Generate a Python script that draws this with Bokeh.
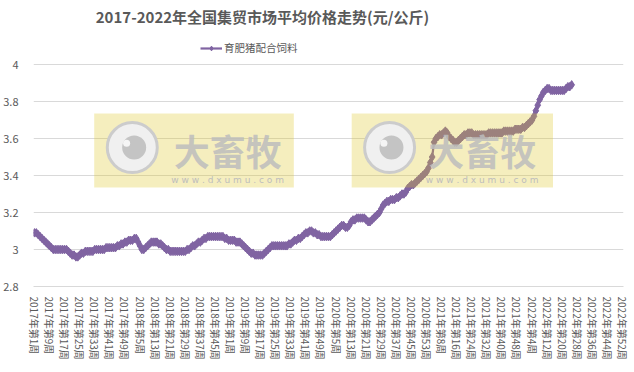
from bokeh.plotting import figure
from bokeh.models import (FixedTicker, CustomJSTickFormatter, Legend, LegendItem,
                          Label, BoxAnnotation, ColumnDataSource, Range1d)
from bokeh.embed import file_html
from bokeh.resources import INLINE

# ---------------- data ----------------
years = [2017, 2018, 2019, 2020, 2021, 2022]
weeks_per_year = [52, 52, 52, 53, 52, 52]
week_labels = [f"{y}年第{w}周" for y, n in zip(years, weeks_per_year) for w in range(1, n + 1)]
label_step = 8

series_name = "育肥猪配合饲料"
title_text = "2017-2022年全国集贸市场平均价格走势(元/公斤)"

price_2017 = [3.09, 3.09, 3.08, 3.07, 3.06, 3.05, 3.04, 3.03, 3.02, 3.01,
              3.00, 3.00, 3.00, 3.00, 3.00, 3.00, 3.00, 3.00, 2.99, 2.98,
              2.97, 2.97, 2.96, 2.96, 2.97, 2.98, 2.98, 2.99, 2.99, 2.99,
              2.99, 2.99, 3.00, 3.00, 3.00, 3.00, 3.00, 3.00, 3.01, 3.01,
              3.01, 3.01, 3.01, 3.01, 3.02, 3.02, 3.03, 3.03, 3.04, 3.04,
              3.05, 3.05]
price_2018 = [3.05, 3.06, 3.06, 3.04, 3.02, 3.00, 3.00, 3.01, 3.02, 3.03,
              3.04, 3.04, 3.04, 3.04, 3.03, 3.03, 3.02, 3.01, 3.00, 3.00,
              2.99, 2.99, 2.99, 2.99, 2.99, 2.99, 2.99, 2.99, 2.99, 3.00,
              3.00, 3.01, 3.02, 3.02, 3.03, 3.04, 3.04, 3.05, 3.06, 3.06,
              3.07, 3.07, 3.07, 3.07, 3.07, 3.07, 3.07, 3.07, 3.07, 3.06,
              3.06, 3.05]
price_2019 = [3.05, 3.05, 3.05, 3.04, 3.04, 3.04, 3.03, 3.02, 3.01, 3.00,
              2.99, 2.98, 2.98, 2.97, 2.97, 2.97, 2.97, 2.97, 2.98, 2.99,
              3.00, 3.01, 3.02, 3.02, 3.02, 3.02, 3.02, 3.02, 3.02, 3.02,
              3.02, 3.03, 3.03, 3.04, 3.05, 3.05, 3.06, 3.06, 3.07, 3.08,
              3.09, 3.09, 3.10, 3.10, 3.09, 3.09, 3.08, 3.08, 3.07, 3.07,
              3.07, 3.07]
price_2020 = [3.07, 3.07, 3.08, 3.09, 3.10, 3.11, 3.12, 3.13, 3.13, 3.12,
              3.12, 3.13, 3.15, 3.16, 3.16, 3.17, 3.17, 3.17, 3.17, 3.17,
              3.16, 3.15, 3.15, 3.16, 3.17, 3.18, 3.19, 3.20, 3.22, 3.24,
              3.25, 3.26, 3.26, 3.27, 3.27, 3.27, 3.28, 3.28, 3.29, 3.30,
              3.30, 3.31, 3.33, 3.34, 3.35, 3.35, 3.36, 3.37, 3.38, 3.39,
              3.40, 3.41, 3.42]
price_2021 = [3.44, 3.47, 3.50, 3.58, 3.60, 3.61, 3.62, 3.62, 3.63, 3.64,
              3.63, 3.61, 3.60, 3.59, 3.58, 3.58, 3.59, 3.60, 3.61, 3.62,
              3.62, 3.63, 3.63, 3.63, 3.62, 3.62, 3.62, 3.62, 3.62, 3.62,
              3.62, 3.62, 3.63, 3.63, 3.63, 3.63, 3.63, 3.63, 3.63, 3.63,
              3.64, 3.64, 3.64, 3.64, 3.64, 3.64, 3.65, 3.65, 3.65, 3.65,
              3.66, 3.66]
price_2022 = [3.67, 3.68, 3.69, 3.70, 3.72, 3.75, 3.78, 3.81, 3.83, 3.85,
              3.86, 3.87, 3.87, 3.86, 3.86, 3.86, 3.86, 3.86, 3.86, 3.86,
              3.86, 3.87, 3.88, 3.88, 3.89]

y_ticks = [2.8, 3.0, 3.2, 3.4, 3.6, 3.8, 4.0]
y_min, y_max = 2.8, 4.0

prices = price_2017 + price_2018 + price_2019 + price_2020 + price_2021 + price_2022
idx = list(range(len(prices)))
source = ColumnDataSource(dict(x=idx, y=prices, week=week_labels[:len(prices)]))

# ---------------- layout / styles ----------------
W, H = 634, 372
FRAME_LEFT, FRAME_RIGHT_PAD = 31, 11
PLOT_TOP_PX, PLOT_BOTTOM_PX = 64, 286          # pixel rows of y_max / y_min
px_per_unit = (PLOT_BOTTOM_PX - PLOT_TOP_PX) / (y_max - y_min)
y_top = y_max + PLOT_TOP_PX / px_per_unit         # leave room for title & legend

PURPLE = "#8064A2"
GRAY_TXT = "#595959"
GRID = "#D9D9D9"
CJK = "Noto Sans CJK SC"

p = figure(width=W, height=H, title=None,
           x_range=Range1d(-0.5, len(week_labels) - 0.5),
           y_range=Range1d(y_min, y_top),
           output_backend="svg", toolbar_location=None,
           min_border_left=FRAME_LEFT, min_border_right=FRAME_RIGHT_PAD,
           min_border_top=0, min_border_bottom=H - PLOT_BOTTOM_PX)
p.outline_line_color = None
p.background_fill_color = "white"
p.border_fill_color = "white"

# grid
p.xgrid.grid_line_color = None
p.ygrid.grid_line_color = GRID
p.ygrid.grid_line_width = 1

# y axis
p.yaxis.ticker = FixedTicker(ticks=y_ticks)
p.yaxis.formatter = CustomJSTickFormatter(code="return tick.toFixed(1).replace(/\\.0$/, '');")
p.yaxis.axis_line_color = None
p.yaxis.major_tick_line_color = None
p.yaxis.minor_tick_line_color = None
p.yaxis.major_label_standoff = 9
p.yaxis.major_label_text_font_size = "11px"
p.yaxis.major_label_text_color = GRAY_TXT
p.yaxis.major_label_text_font = CJK

# x axis
x_ticks = list(range(0, len(week_labels), label_step))
p.xaxis.ticker = FixedTicker(ticks=x_ticks)
p.xaxis.major_label_overrides = {t: week_labels[t] for t in x_ticks}
p.xaxis.major_label_orientation = "vertical"
p.xaxis.axis_line_color = GRID
p.xaxis.major_tick_line_color = None
p.xaxis.minor_tick_line_color = None
p.xaxis.major_label_standoff = 4
p.xaxis.major_label_text_font_size = "10px"
p.xaxis.major_label_text_color = GRAY_TXT
p.xaxis.major_label_text_font = CJK

# series
line_r = p.line("x", "y", source=source, line_color=PURPLE, line_width=2.2)
mark_r = p.scatter("x", "y", source=source, marker="diamond", size=8.5,
                   fill_color=PURPLE, line_color=PURPLE)

# watermark boxes (decoration)
for left, right, cx, tx in [(31.7, 137.6, 51.9, 102.5), (168.3, 275.1, 188.4, 237.5)]:
    p.add_layout(BoxAnnotation(left=left, right=right, bottom=3.335, top=3.735,
                               fill_color="#DEC628", fill_alpha=0.3, line_color=None))
    p.add_layout(Label(x=tx, y=3.54, text="大畜牧", text_align="center",
                       text_baseline="middle", text_font_size="36px",
                       text_font_style="bold", text_color="#BDBDBD", text_alpha=0.85,
                       text_font=CJK))
    p.add_layout(Label(x=tx, y=3.375, text="w w w . d x u m u . c o m", text_align="center",
                       text_baseline="middle", text_font_size="9px",
                       text_color="#BDBDBD", text_font="DejaVu Sans"))
    ring = p.scatter(x=[cx], y=[3.551], size=50, marker="circle",
                     fill_color="#F0F0F0", line_color="#CCCCCC", line_width=3)
    ring.level = "overlay"
    dot = p.scatter(x=[cx + 1], y=[3.551], size=24, marker="circle",
                    fill_color="#C4C4C4", line_color=None)
    dot.level = "overlay"
    hl = p.scatter(x=[cx - 3], y=[3.575], size=7, marker="circle",
                   fill_color="#F5F5F5", line_color=None)
    hl.level = "overlay"

# title (inside the frame's upper free space)
p.add_layout(Label(x=260 - FRAME_LEFT, y=PLOT_BOTTOM_PX - 16, x_units="screen", y_units="screen",
                   text=title_text, text_align="center", text_baseline="middle",
                   text_font_size="15px", text_font_style="bold",
                   text_color=GRAY_TXT, text_font=CJK))

# legend (location = bottom-left corner, frame-relative)
legend = Legend(items=[LegendItem(label=series_name, renderers=[line_r, mark_r])],
                location=(198 - FRAME_LEFT, PLOT_BOTTOM_PX - 55), orientation="horizontal",
                border_line_color=None, background_fill_alpha=0,
                margin=0, padding=0, spacing=0,
                glyph_width=22, glyph_height=12, label_standoff=2,
                label_text_font_size="10.5px", label_text_color=GRAY_TXT,
                label_text_font=CJK)
p.add_layout(legend)

open("out.html", "w").write(file_html(p, INLINE))
